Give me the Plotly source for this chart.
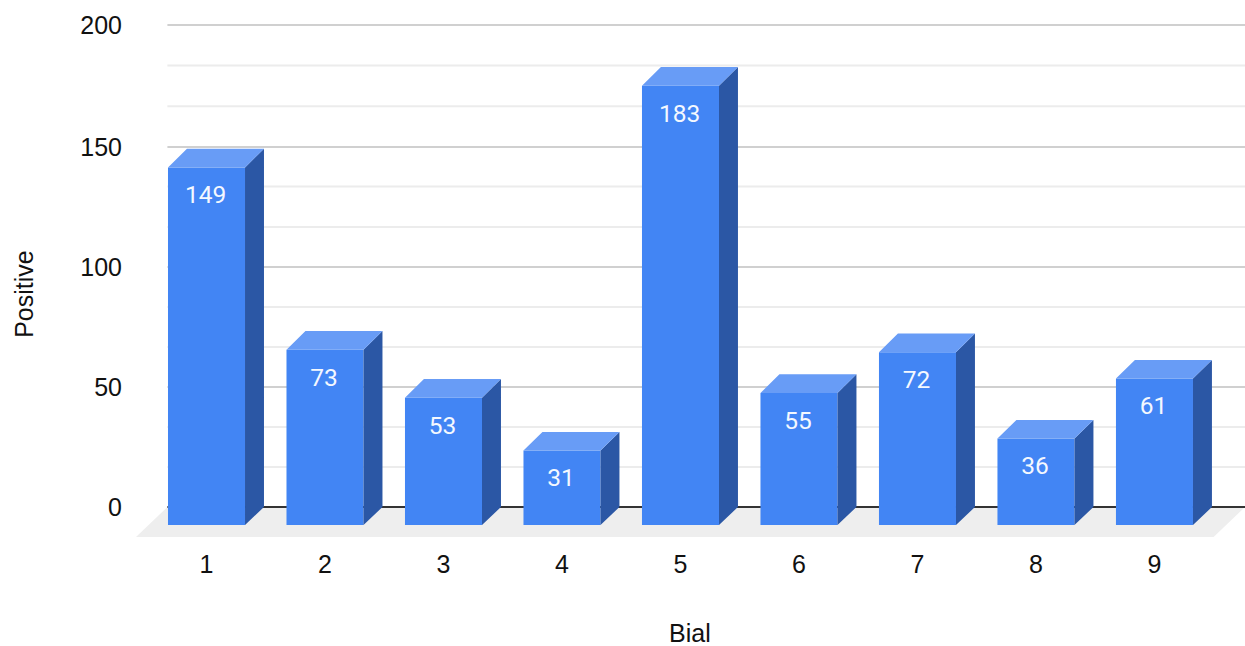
import plotly.graph_objects as go

categories = [1, 2, 3, 4, 5, 6, 7, 8, 9]
values = [149, 73, 53, 31, 183, 55, 72, 36, 61]
major_ticks = [0, 50, 100, 150, 200.8]
major_labels = ["0", "50", "100", "150", "200"]
minor_grid = [16.7, 33.3, 66.7, 83.3, 116.7, 133.6, 167, 184]

FRONT = "#4285f4"
SIDE = "#2b57a5"
TOP = "#689cf6"
BAR_W = 0.65
DEPTH_X = 0.16   # depth of the fake 3D in x-axis units
DEPTH_Y = 7.5    # depth of the fake 3D in y-axis units
X_RANGE = [0.405, 9.764]
Y_RANGE = [-12.5, 207.1]
GRID_LEFT = 1 - BAR_W / 2 - 0.005
AXIS_FONT = dict(family="Liberation Sans, Arial, sans-serif", size=25, color="#111111")

side_x, side_y, top_x, top_y = [], [], [], []
for c, v in zip(categories, values):
    r = c + BAR_W / 2
    l = c - BAR_W / 2
    side_x += [r, r + DEPTH_X, r + DEPTH_X, r, r, None]
    side_y += [v - DEPTH_Y, v + 0.3, 0, -DEPTH_Y, v - DEPTH_Y, None]
    top_x += [l, l + DEPTH_X, r + DEPTH_X, r, l, None]
    top_y += [v - DEPTH_Y, v + 0.3, v + 0.3, v - DEPTH_Y, v - DEPTH_Y, None]

fig = go.Figure()
fig.add_bar(
    x=categories, y=values, base=[-DEPTH_Y] * len(values), width=BAR_W,
    marker=dict(color=FRONT, line=dict(width=0)), hoverinfo="skip",
)
fig.add_scatter(x=side_x, y=side_y, mode="lines", fill="toself", fillcolor=SIDE,
                line=dict(width=0, color=SIDE), hoverinfo="skip")
fig.add_scatter(x=top_x, y=top_y, mode="lines", fill="toself", fillcolor=TOP,
                line=dict(width=0, color=TOP), hoverinfo="skip")
fig.add_scatter(
    x=[c - 0.008 for c in categories], y=[v - DEPTH_Y - 12.4 for v in values], mode="text",
    text=[str(v) for v in values], textposition="middle center",
    textfont=dict(family="Roboto, sans-serif", size=24.5, color="#f4f8ff"), hoverinfo="skip",
)

shapes = [dict(
    type="path", layer="below", line=dict(width=0), fillcolor="#eeeeee",
    path=f"M {X_RANGE[0]},{Y_RANGE[0]} L {GRID_LEFT},0 L {X_RANGE[1]},0 "
         f"L {X_RANGE[1] - (GRID_LEFT - X_RANGE[0])},{Y_RANGE[0]} Z",
)]
for g in minor_grid:
    shapes.append(dict(type="line", layer="below", x0=GRID_LEFT, x1=X_RANGE[1], y0=g, y1=g,
                       line=dict(color="#ececec", width=2)))
for g in major_ticks[1:]:
    shapes.append(dict(type="line", layer="below", x0=GRID_LEFT, x1=X_RANGE[1], y0=g, y1=g,
                       line=dict(color="#d0d0d0", width=2)))
shapes.append(dict(type="line", layer="below", x0=GRID_LEFT, x1=X_RANGE[1], y0=0, y1=0,
                   line=dict(color="#333333", width=2)))

fig.update_layout(
    width=1245, height=646, showlegend=False,
    margin=dict(l=136, r=0, t=10, b=109),
    paper_bgcolor="#ffffff", plot_bgcolor="rgba(0,0,0,0)",
    shapes=shapes,
    xaxis=dict(range=X_RANGE, tickmode="array", tickvals=categories,
               ticktext=[str(c) for c in categories], showgrid=False, zeroline=False,
               showline=False, ticks="", tickfont=AXIS_FONT, ticklabelstandoff=10),
    yaxis=dict(range=Y_RANGE, tickmode="array", tickvals=major_ticks, ticktext=major_labels,
               showgrid=False, zeroline=False, showline=False, ticks="",
               tickfont=AXIS_FONT, ticklabelstandoff=13),
    annotations=[
        dict(text="Bial", xref="paper", yref="paper", x=0.4995, y=-0.1822, xanchor="center",
             yanchor="middle", showarrow=False, font=AXIS_FONT),
        dict(text="Positive", xref="paper", yref="paper", x=-0.1016, y=0.4620, xanchor="center",
             yanchor="middle", textangle=-90, showarrow=False, font=AXIS_FONT),
    ],
)

fig.write_html("out.html", config={"displayModeBar": False},
               post_script="document.body.style.margin='0';")
